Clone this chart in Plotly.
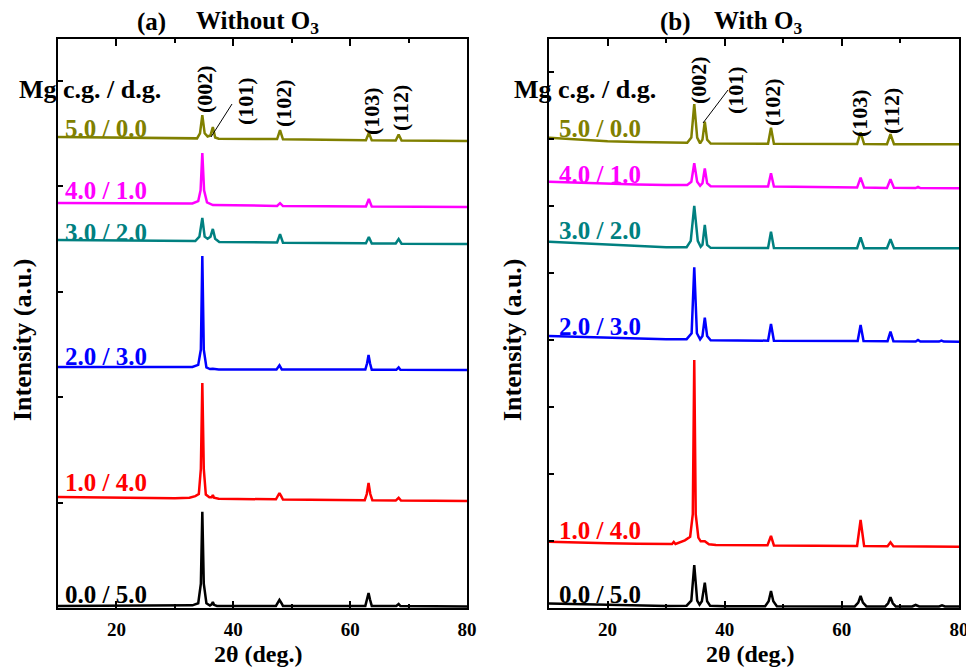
import plotly.graph_objects as go

# ---------------------------------------------------------------------------
# XRD patterns of Mg-doped ZnO films (2θ in degrees, intensity in a.u.,
# each pattern already carries its vertical stacking offset)
# ---------------------------------------------------------------------------

# (a) Without O3
A_00_50_X = [10, 20, 30, 33.0, 34.0, 34.45, 34.7, 34.95, 35.4, 36.0, 36.3, 36.5, 36.7, 37.2,
             47.3, 47.6, 47.9, 48.2, 48.5, 62.6, 62.9, 63.15, 63.4, 63.7, 67.9, 68.3, 68.6, 80]
A_00_50_Y = [19, 19, 22, 25, 45, 230, 913, 230, 45, 24, 35, 57, 30, 20,
             20, 50, 76, 50, 20, 20, 80, 142, 80, 20, 19, 38, 19, 14]

A_10_40_X = [10, 20, 30, 32.5, 33.5, 34.1, 34.45, 34.7, 34.95, 35.3, 35.9, 36.3, 36.5, 36.7, 37.5,
             47.3, 47.6, 47.9, 48.2, 48.5, 62.5, 62.85, 63.15, 63.45, 63.8, 67.8, 68.3, 68.7, 80]
A_10_40_Y = [1052, 1045, 1040, 1045, 1060, 1080, 1320, 2133, 1320, 1075, 1050, 1050, 1071, 1045, 1036,
             1030, 1060, 1090, 1060, 1028, 1022, 1080, 1185, 1080, 1022, 1018, 1045, 1018, 1014]

A_20_30_X = [10, 20, 30, 33.0, 34.0, 34.45, 34.7, 34.95, 35.4, 36.0, 36.5, 37.5,
             47.4, 47.9, 48.3, 62.6, 62.9, 63.15, 63.4, 63.7, 67.9, 68.3, 68.6, 80]
A_20_30_Y = [2284, 2282, 2280, 2285, 2305, 2450, 3337, 2450, 2280, 2265, 2268, 2262,
             2262, 2300, 2262, 2260, 2320, 2398, 2320, 2258, 2258, 2280, 2258, 2256]

A_30_20_X = [10, 20, 30, 33.5, 34.2, 34.7, 35.1, 35.6, 36.1, 36.5, 36.9, 37.6,
             47.5, 48.0, 48.5, 62.7, 63.2, 63.7, 67.8, 68.3, 68.8, 80]
A_30_20_Y = [3488, 3485, 3480, 3478, 3520, 3697, 3520, 3500, 3520, 3593, 3500, 3470,
             3465, 3545, 3463, 3458, 3517, 3456, 3455, 3498, 3453, 3450]

A_40_10_X = [10, 20, 30, 33.0, 34.0, 34.4, 34.7, 35.0, 35.5, 36.5,
             47.5, 48.0, 48.5, 62.7, 63.2, 63.7, 80]
A_40_10_Y = [3839, 3835, 3830, 3835, 3858, 3960, 4313, 3960, 3845, 3820,
             3812, 3838, 3810, 3806, 3877, 3805, 3801]

A_50_00_X = [10, 20, 30, 33.8, 34.3, 34.7, 35.1, 35.6, 36.1, 36.5, 36.9, 37.5,
             47.5, 48.0, 48.5, 62.7, 63.2, 63.7, 67.8, 68.3, 68.8, 72, 80]
A_50_00_Y = [4465, 4460, 4455, 4452, 4500, 4673, 4500, 4470, 4480, 4559, 4460, 4448,
             4445, 4531, 4443, 4435, 4502, 4433, 4432, 4488, 4431, 4431, 4427]

# (b) With O3
B_00_50_X = [10, 15, 20, 25, 30, 33.5, 34.3, 34.8, 35.3, 35.7, 36.1, 36.6, 37.0, 37.5, 40,
             46.9, 47.5, 47.9, 48.3, 48.9, 62.2, 62.8, 63.2, 63.6, 64.2,
             67.4, 67.9, 68.3, 68.7, 69.2, 72.0, 72.6, 73.2, 76.6, 77.1, 77.6, 80]
B_00_50_Y = [67, 55, 45, 38, 30, 35, 110, 642, 110, 50, 100, 378, 100, 35, 27,
             27, 100, 254, 100, 25, 24, 80, 179, 80, 23,
             23, 70, 160, 70, 23, 23, 45, 23, 22, 38, 22, 22]

B_10_40_X = [10, 15, 20, 25, 30, 31.0, 31.3, 31.6, 33.2, 34.1, 34.55, 34.8, 35.05, 35.5, 35.9,
             36.6, 37.3, 38.5, 47.3, 47.9, 48.4, 62.6, 63.2, 63.8, 67.8, 68.3, 68.8, 80]
B_10_40_Y = [990, 975, 965, 960, 955, 955, 985, 955, 1010, 1064, 1400, 3701, 1400, 1050, 995,
             995, 950, 940, 935, 1075, 933, 925, 1313, 925, 921, 980, 921, 915]

B_20_30_X = [10, 15, 20, 25, 30, 33.5, 34.35, 34.8, 35.25, 35.8, 36.2, 36.6, 37.0, 37.6,
             47.4, 47.9, 48.4, 62.7, 63.2, 63.7, 67.8, 68.3, 68.8, 72.6, 73.0, 73.4, 76.6, 77.0, 77.4, 80]
B_20_30_Y = [4060, 4045, 4030, 4020, 4010, 4012, 4100, 5085, 4100, 4010, 4060, 4333, 4060, 3995,
             3990, 4239, 3990, 3985, 4224, 3985, 3982, 4124, 3982, 3978, 4000, 3978, 3976, 3990, 3976, 3975]

B_30_20_X = [10, 15, 20, 25, 30, 33.5, 34.2, 34.8, 35.4, 35.9, 36.2, 36.6, 37.0, 37.6,
             47.4, 47.9, 48.4, 62.6, 63.2, 63.8, 67.7, 68.3, 68.9, 80]
B_30_20_Y = [5467, 5445, 5425, 5400, 5383, 5385, 5480, 6000, 5480, 5390, 5420, 5716, 5420, 5375,
             5372, 5616, 5372, 5370, 5532, 5370, 5369, 5503, 5369, 5368]

B_40_10_X = [10, 15, 20, 25, 30, 33.6, 34.3, 34.8, 35.3, 35.8, 36.2, 36.6, 37.0, 37.6,
             47.4, 47.9, 48.4, 62.6, 63.2, 63.8, 67.7, 68.3, 68.9, 72.6, 73.0, 73.4, 80]
B_40_10_Y = [6363, 6345, 6330, 6320, 6313, 6312, 6360, 6637, 6360, 6300, 6340, 6562, 6340, 6295,
             6290, 6488, 6290, 6275, 6423, 6275, 6270, 6398, 6270, 6268, 6285, 6268, 6264]

B_50_00_X = [10, 15, 20, 25, 30, 33.6, 34.3, 34.8, 35.3, 35.8, 36.2, 36.6, 37.0, 37.6,
             47.4, 47.9, 48.4, 62.6, 63.2, 63.8, 67.7, 68.3, 68.9, 80]
B_50_00_Y = [7019, 6990, 6965, 6955, 6945, 6942, 7020, 7522, 7020, 6935, 6990, 7258, 6990, 6932,
             6930, 7169, 6930, 6925, 7100, 6925, 6923, 7070, 6923, 6921]

SAMPLE_LABELS = ["0.0 / 5.0", "1.0 / 4.0", "2.0 / 3.0", "3.0 / 2.0", "4.0 / 1.0", "5.0 / 0.0"]
SAMPLE_COLORS = ["#000000", "#ff0000", "#0000ff", "#008080", "#ff00ff", "#808000"]
HKL_LABELS = ["(002)", "(101)", "(102)", "(103)", "(112)"]
X_TICKS = [20, 40, 60, 80]

PANEL_A = [(A_00_50_X, A_00_50_Y), (A_10_40_X, A_10_40_Y), (A_20_30_X, A_20_30_Y),
           (A_30_20_X, A_30_20_Y), (A_40_10_X, A_40_10_Y), (A_50_00_X, A_50_00_Y)]
PANEL_B = [(B_00_50_X, B_00_50_Y), (B_10_40_X, B_10_40_Y), (B_20_30_X, B_20_30_Y),
           (B_30_20_X, B_30_20_Y), (B_40_10_X, B_40_10_Y), (B_50_00_X, B_50_00_Y)]

# ---------------------------------------------------------------------------
# positions below are given in pixels of the 966 x 671 canvas
W, H = 966, 671
SERIF = "Liberation Serif"


def px(x):
    return x / W


def py(y):
    return 1 - y / H


fig = go.Figure()

for (x, y), color in zip(PANEL_A, SAMPLE_COLORS):
    fig.add_trace(go.Scatter(x=x, y=y, mode="lines", line=dict(color=color, width=2.5),
                             xaxis="x", yaxis="y", showlegend=False, hoverinfo="skip"))
for (x, y), color in zip(PANEL_B, SAMPLE_COLORS):
    fig.add_trace(go.Scatter(x=x, y=y, mode="lines", line=dict(color=color, width=2.5),
                             xaxis="x2", yaxis="y2", showlegend=False, hoverinfo="skip"))

bold = dict(family=SERIF, color="black", weight="bold")

# automargin off: the "80" label on the right edge is allowed to run off the canvas
xcommon = dict(range=[10, 80], tickvals=X_TICKS, ticks="inside", ticklen=7, tickwidth=1.5,
               tickcolor="black", showline=True, linecolor="black", linewidth=2,
               mirror="ticks", showgrid=False, zeroline=False, automargin=False,
               ticklabeloverflow="allow", ticklabelstandoff=3,
               tickfont=dict(size=19, **bold),
               minor=dict(tickvals=[10, 30, 50, 70], ticks="inside", ticklen=4,
                          tickwidth=1.5, tickcolor="black"))
ycommon = dict(dtick=1000, tick0=0, ticks="inside", ticklen=5, tickwidth=1.5, tickcolor="black",
               showticklabels=False, showline=True, linecolor="black", linewidth=2,
               mirror=True, showgrid=False, zeroline=False, automargin=False)

ydom = [py(608), py(39)]
fig.update_layout(
    width=W, height=H, autosize=False, margin=dict(l=0, r=0, t=0, b=0, pad=0, autoexpand=False),
    paper_bgcolor="white", plot_bgcolor="white",
    xaxis=dict(domain=[px(58), px(467)], anchor="y", **xcommon),
    yaxis=dict(domain=ydom, anchor="x", range=[0, 5394], **ycommon),
    xaxis2=dict(domain=[px(549), px(959)], anchor="y2", **xcommon),
    yaxis2=dict(domain=ydom, anchor="x2", range=[0, 8492], **ycommon),
)

ann = []


def text(x, y, s, size, color="black", xanchor="left", angle=0):
    ann.append(dict(x=px(x), y=py(y), xref="paper", yref="paper", text=s, showarrow=False,
                    xanchor=xanchor, yanchor="middle", textangle=angle,
                    font=dict(family=SERIF, size=size, color=color, weight="bold")))


# panel titles
text(135, 22, "(a)", 25)
text(194, 22, "Without O<sub>3</sub>", 25)
text(658, 22, "(b)", 25)
text(712, 22, "With O<sub>3</sub>", 25)

# column header
text(17, 90, "Mg c.g. / d.g.", 26)
text(512, 89, "Mg c.g. / d.g.", 26)

# sample labels
for label, color, ya, yb in zip(SAMPLE_LABELS, SAMPLE_COLORS,
                                [594, 482, 356, 232, 191, 128],
                                [594, 530, 326, 231, 174, 128]):
    text(63, ya, label, 25, color)
    text(557, yb, label, 25, color)

# reflection indices
for label, (xa, ya), (xb, yb) in zip(HKL_LABELS,
                                     [(204, 89), (245, 101), (283, 103), (371, 111), (400, 108)],
                                     [(698, 80), (736, 90), (773, 102), (860, 113), (891, 111)]):
    text(xa, ya, label, 22, xanchor="center", angle=-90)
    text(xb, yb, label, 22, xanchor="center", angle=-90)

# axis titles
text(258, 654, "2θ (deg.)", 24, xanchor="center")
text(750, 654, "2θ (deg.)", 24, xanchor="center")
text(22, 340, "Intensity (a.u.)", 26, xanchor="center", angle=-90)
text(512, 340, "Intensity (a.u.)", 26, xanchor="center", angle=-90)

fig.update_layout(annotations=ann)

# leader lines for the (101) reflection
for x0, y0, x1, y1 in [(232, 104, 211, 137), (728, 90, 703, 123)]:
    fig.add_shape(type="line", xref="paper", yref="paper",
                  x0=px(x0), y0=py(y0), x1=px(x1), y1=py(y1),
                  line=dict(color="black", width=1))

fig.write_html("out.html")
